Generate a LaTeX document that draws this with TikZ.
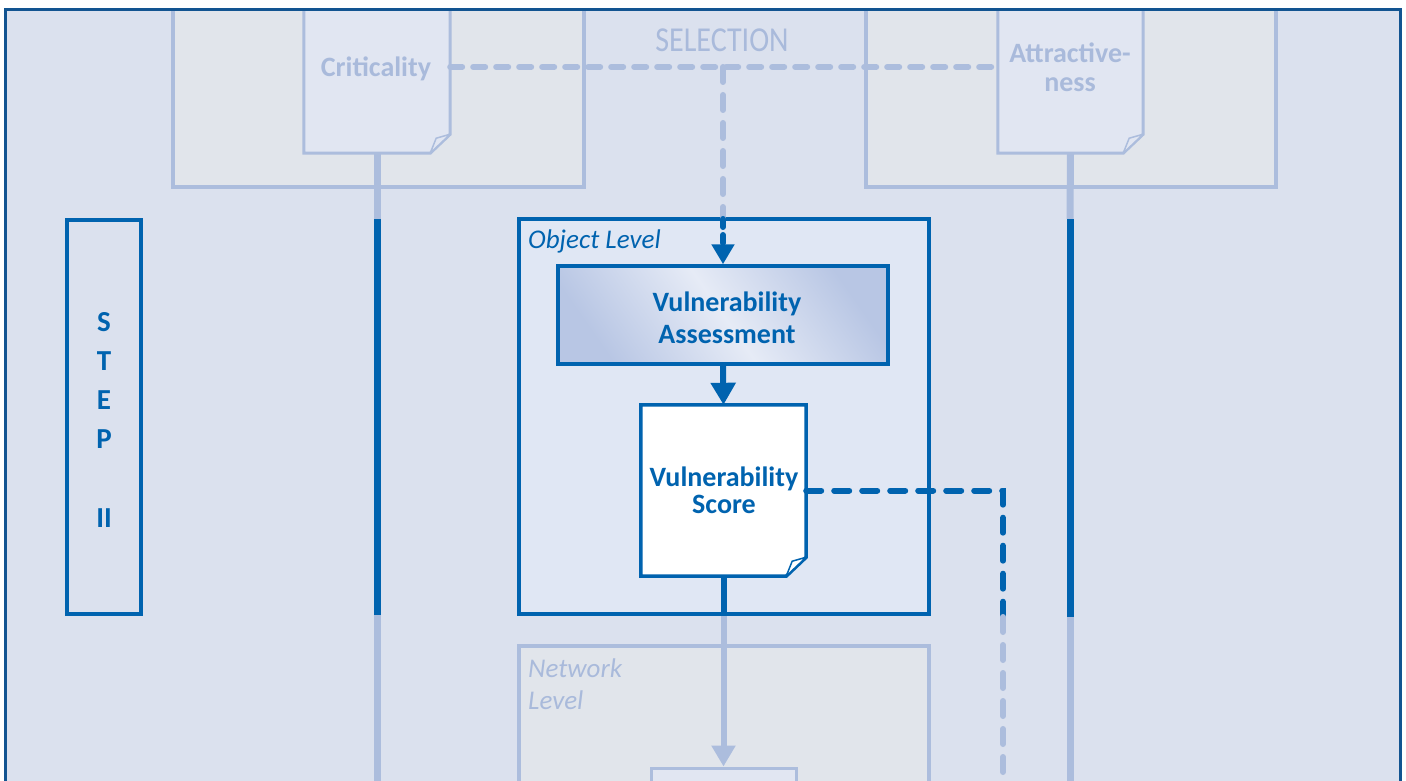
\documentclass[tikz,border=0pt]{standalone}
\usepackage{fontspec}
\setmainfont{Carlito}
\newfontfamily\selfont[FakeStretch=0.86]{Carlito}
\usetikzlibrary{arrows.meta}
\definecolor{dblue}{RGB}{0,99,175}
\definecolor{frameblue}{RGB}{18,84,145}
\definecolor{lblue}{RGB}{172,189,221}
\definecolor{ltext}{RGB}{169,186,219}
\definecolor{bgc}{RGB}{219,225,238}
\definecolor{grayfill}{RGB}{225,229,235}
\definecolor{docfill}{RGB}{225,230,242}
\definecolor{objfill}{RGB}{224,231,244}
\definecolor{vadark}{RGB}{184,198,228}
\definecolor{valight}{RGB}{230,235,246}
\pgfdeclarehorizontalshading{vashade}{100bp}{color(0bp)=(vadark); color(25bp)=(vadark); color(50bp)=(valight); color(75bp)=(vadark); color(100bp)=(vadark)}
\tikzset{
  areabox/.style={draw=lblue, line width=4pt, fill=grayfill, inner sep=0pt},
  blank/.style={inner sep=0pt},
  lsolid/.style={draw=lblue, line width=7pt},
  dsolid/.style={draw=dblue, line width=7pt},
  ldash/.style={draw=lblue, line width=6pt, line cap=round, dash pattern=on 12pt off 11pt},
  lvdash/.style={draw=lblue, line width=6pt, line cap=round, dash pattern=on 15pt off 13pt},
  ddash/.style={draw=dblue, line width=6pt, line cap=round, dash pattern=on 15pt off 13pt},
  ltxt/.style={text=ltext, font=\bfseries\fontsize{28}{29}\selectfont, align=center, inner sep=0pt},
  dtxt/.style={text=dblue, font=\bfseries\fontsize{28}{32}\selectfont, align=center, inner sep=0pt},
}
\newcommand\docoutline[4]{% name, fill, stroke, width
  \filldraw[draw=#3, fill=#2, line width=#4, line join=miter]
    (#1.north west) -- (#1.north east) -- ([yshift=19pt]#1.south east)
    -- ([xshift=-20pt]#1.south east) -- (#1.south west) -- cycle;
  \filldraw[draw=#3, fill=#2, line width=1.5pt, line join=round]
    ([yshift=19pt]#1.south east) -- ([xshift=-14pt,yshift=15pt]#1.south east)
    -- ([xshift=-20pt]#1.south east) -- cycle;
}
\begin{document}
\begin{tikzpicture}[x=1pt,y=-1pt]
\useasboundingbox (0,0) rectangle (1406,781);
\fill[white] (0,0) rectangle (1406,781);
\fill[bgc] (5,10) rectangle (1401,800);
\draw[frameblue, line width=3pt] (5.5,800) -- (5.5,10) -- (1400.5,10) -- (1400.5,800);
\begin{scope}
\clip (7,11.5) rectangle (1399,781);
% top selection areas
\node[areabox, minimum width=411pt, minimum height=200pt] (critarea) at (378.5,87) {};
\node[areabox, minimum width=410pt, minimum height=200pt] (attrarea) at (1071,87) {};
% documents
\node[blank, minimum width=146pt, minimum height=160pt] (critdoc) at (377,73) {};
\docoutline{critdoc}{docfill}{lblue}{3pt}
\node[blank, minimum width=145pt, minimum height=160pt] (attrdoc) at (1070.5,73) {};
\docoutline{attrdoc}{docfill}{lblue}{3pt}
\node[ltxt] (crittxt) at (376,68.5) {Criticality};
\node[ltxt] (attrtxt) at (1070,67.5) {Attractive-\\ness};
\node[text=ltext, font=\selfont\fontsize{35}{35}\selectfont, inner sep=0pt] (seltxt) at (722,40) {SELECTION};
% step box
\node[draw=dblue, line width=4pt, minimum width=74pt, minimum height=394pt] (stepbox) at (104,417) {};
\node[dtxt, font=\bfseries\fontsize{29}{39}\selectfont] (steptxt) at (104,420) {S\\T\\E\\P\\[40pt]II};
% object level
\node[draw=dblue, fill=objfill, line width=4pt, minimum width=410pt, minimum height=395pt] (obj) at (724,416.5) {};
\node[text=dblue, font=\itshape\fontsize{27}{27}\selectfont, anchor=base west, inner sep=0pt] (objtxt) at (528,248) {Object Level};
\node[draw=dblue, line width=3.5pt, shading=vashade, shading angle=35, minimum width=330pt, minimum height=98pt] (va) at (723,315) {};
\node[dtxt] (vatxt) at (727,318) {Vulnerability\\Assessment};
\node[blank, minimum width=165pt, minimum height=171pt] (vs) at (723.5,490.5) {};
\docoutline{vs}{white}{dblue}{3.5pt}
\node[dtxt, font=\bfseries\fontsize{28}{27}\selectfont] (vstxt) at (724,490) {Vulnerability\\Score};
% network level
\node[areabox, line width=3.5pt, minimum width=410pt, minimum height=190pt] (net) at (724,741) {};
\node[text=ltext, font=\itshape\fontsize{27}{32}\selectfont, align=left, anchor=west, inner sep=0pt] (nettxt) at (528,684) {Network\\Level};
\node[draw=lblue, fill=docfill, line width=3pt, minimum width=145pt, minimum height=62pt] (small) at (723.5,799) {};
% vertical columns
\coordinate (c1) at (377,219);
\coordinate (c2) at (377,615);
\coordinate (c3) at (377,800);
\draw[lsolid] (critdoc.south) -- (c1);
\draw[dsolid] (c1) -- (c2);
\draw[lsolid] (c2) -- (c3);
\coordinate (a1) at (1070,219);
\coordinate (a2) at (1070,617);
\coordinate (a3) at (1070,800);
\draw[lsolid] (attrdoc.south) -- (a1);
\draw[dsolid] (a1) -- (a2);
\draw[lsolid] (a2) -- (a3);
% selection dashed
\coordinate (sel) at (723,67);
\coordinate (selb) at (723,219);
\draw[ldash] (critdoc.east |- sel) -- (attrdoc.west |- sel);
\draw[lvdash] (sel) -- (selb);
\draw[draw=dblue, line width=6pt, line cap=round, dash pattern=on 8pt off 8pt, -{Triangle[width=22pt,length=20pt]}] (selb) -- (va.north);
% assessment to score
\draw[draw=dblue, line width=6pt, -{Triangle[width=24pt,length=22pt]}] (va.south) -- (vs.north);
% score down
\coordinate (vsb) at (vs.south |- obj.south);
\draw[draw=dblue, line width=6pt] (vs.south) -- (vsb);
\draw[draw=lblue, line width=6pt, -{Triangle[width=23pt,length=21pt]}] (vsb) -- (small.north);
% score dashed
\coordinate (vsd) at (1003,617);
\coordinate (vse) at (1003,800);
\draw[ddash] (vs.east) -| (vsd);
\draw[lvdash] (vsd) -- (vse);
\end{scope}
\end{tikzpicture}
\end{document}
